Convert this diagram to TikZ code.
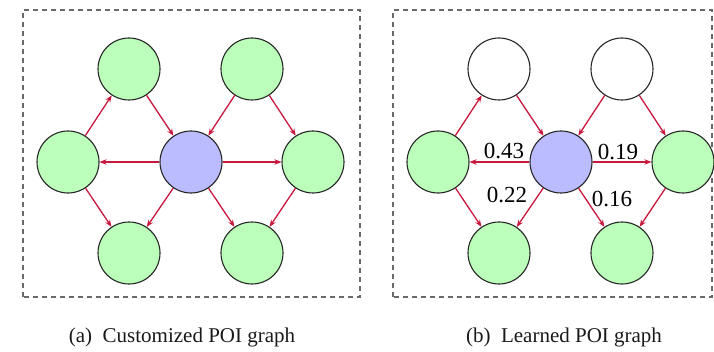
\documentclass[tikz,border=0pt]{standalone}
\usepackage{fontspec}
\newfontfamily\numfont{Liberation Serif}
\usetikzlibrary{arrows.meta}
\definecolor{poigreen}{HTML}{BBFFBB}
\definecolor{poiblue}{HTML}{BBBBFF}
\definecolor{edgered}{HTML}{C8193C}
\definecolor{boxgray}{HTML}{6A6A6A}
\tikzset{
  poi/.style={circle,draw=black!85,line width=1.1pt,minimum size=62pt,inner sep=0pt},
  gpoi/.style={poi,fill=poigreen},
  bpoi/.style={poi,fill=poiblue},
  wpoi/.style={poi,fill=white},
  edge/.style={draw=edgered,line width=1.3pt,-{Stealth[length=7pt,width=5.5pt]}},
  panel/.style={draw=boxgray,line width=1.4pt,dash pattern=on 5pt off 4pt},
  wlabel/.style={font=\numfont\fontsize{23}{23}\selectfont,inner sep=0pt},
  caption/.style={font=\numfont\fontsize{21}{21}\selectfont,inner sep=0pt,text=black!90}
}
\begin{document}
\begin{tikzpicture}[x=1pt,y=1pt]
\useasboundingbox (0,0) rectangle (714,351);
% panel (a)
\draw[panel] (23,54) rectangle (360,341);
\node[gpoi] (aTL) at (129,282) {};
\node[gpoi] (aTR) at (252,282) {};
\node[gpoi] (aL)  at (68,189) {};
\node[bpoi] (aC)  at (191,189) {};
\node[gpoi] (aR)  at (313,189) {};
\node[gpoi] (aBL) at (129,98) {};
\node[gpoi] (aBR) at (252,98) {};
\draw[edge] (aL) -- (aTL);
\draw[edge] (aTL) -- (aC);
\draw[edge] (aTR) -- (aC);
\draw[edge] (aTR) -- (aR);
\draw[edge] (aC) -- (aL);
\draw[edge] (aC) -- (aR);
\draw[edge] (aL) -- (aBL);
\draw[edge] (aC) -- (aBL);
\draw[edge] (aC) -- (aBR);
\draw[edge] (aR) -- (aBR);
% panel (b)
\draw[panel] (393,54) rectangle (712,341);
\node[wpoi] (bTL) at (499,282) {};
\node[wpoi] (bTR) at (622,282) {};
\node[gpoi] (bL)  at (438,189) {};
\node[bpoi] (bC)  at (561,189) {};
\node[gpoi] (bR)  at (683,189) {};
\node[gpoi] (bBL) at (499,98) {};
\node[gpoi] (bBR) at (622,98) {};
\draw[edge] (bL) -- (bTL);
\draw[edge] (bTL) -- (bC);
\draw[edge] (bTR) -- (bC);
\draw[edge] (bTR) -- (bR);
\draw[edge] (bC) -- (bL);
\draw[edge] (bC) -- (bR);
\draw[edge] (bL) -- (bBL);
\draw[edge] (bC) -- (bBL);
\draw[edge] (bC) -- (bBR);
\draw[edge] (bR) -- (bBR);
\node[wlabel] (l43) at (504,200) {0.43};
\node[wlabel] (l19) at (618,199) {0.19};
\node[wlabel] (l22) at (507,156) {0.22};
\node[wlabel] (l16) at (612,152) {0.16};
% captions
\node[caption] (capa) at (182,14) {(a)\enspace Customized POI graph};
\node[caption] (capb) at (564,14) {(b)\enspace Learned POI graph};
\end{tikzpicture}
\end{document}
